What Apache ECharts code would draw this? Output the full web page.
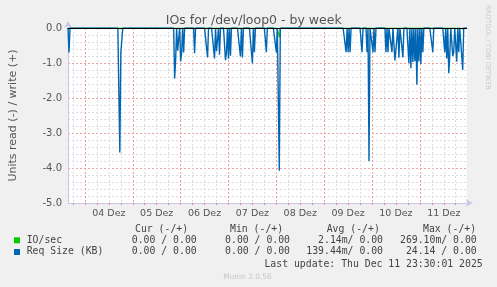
<!DOCTYPE html>
<html><head><meta charset="utf-8">
<script src="https://cdn.jsdelivr.net/npm/echarts@6/dist/echarts.min.js"></script>
<style>html,body{margin:0;padding:0;background:#f0f0f0;}#c{width:497px;height:287px;}</style>
</head><body><div id="c"></div>
<script>
// ---- data ----
const titleText = 'IOs for /dev/loop0 - by week';
const yTicks = [0, -1, -2, -3, -4, -5];
const dayLabels = ['04 Dez','05 Dez','06 Dez','07 Dez','08 Dez','09 Dez','10 Dez','11 Dez'];
// Req Size (KB), read side (negative), spikes: time "DD HH:MM" (Dec 2025)
const reqTimes = ['03 16:00','04 17:30','04 18:00','04 18:30','05 21:00','05 21:30','05 22:30','05 23:00','06 00:00','06 00:30','06 01:30','06 07:00','06 13:30','06 17:00','06 18:00','06 18:30','06 19:30','06 22:30','06 23:00','07 00:00','07 01:00','07 06:00','07 07:00','07 12:00','07 13:00','07 19:00','08 00:00','08 01:30','09 11:00','09 12:00','09 13:00','09 19:00','09 21:30','09 22:30','10 00:30','10 01:30','10 07:00','10 08:00','10 10:00','10 11:30','10 12:00','10 12:30','10 13:30','10 15:30','10 18:30','10 19:30','10 20:30','10 21:30','10 22:30','10 23:30','11 00:30','11 01:30','11 06:30','11 12:30','11 13:30','11 14:30','11 15:00','11 16:30','11 17:00','11 18:30','11 19:30','11 21:30'];
const reqValues = [-0.70,-3.56,-0.70,-0.70,-1.44,-0.90,-0.65,-0.66,-0.95,-0.70,-0.70,-0.72,-0.84,-0.87,-0.66,-0.70,-0.76,-0.92,-0.70,-0.88,-0.79,-0.81,-0.84,-1.01,-0.69,-0.69,-0.69,-4.08,-0.69,-0.69,-0.69,-0.69,-0.69,-3.80,-0.69,-0.69,-0.69,-0.69,-0.69,-0.93,-0.91,-0.91,-0.85,-0.84,-1.00,-1.15,-0.97,-0.95,-1.62,-0.96,-1.03,-0.69,-0.69,-0.69,-0.87,-1.29,-0.80,-0.80,-0.69,-0.96,-0.69,-1.20];
// IO/sec, read side (negative)
const ioTimes = ['04 17:30','06 00:00','06 13:30','07 06:00','07 12:00','08 01:30','10 20:30','10 22:30','11 14:30','11 19:30','11 21:30'];
const ioValues = [-0.03,-0.03,-0.03,-0.03,-0.03,-0.27,-0.03,-0.03,-0.03,-0.03,-0.03];
const legendHeaders = ['Cur (-/+)','Min (-/+)','Avg (-/+)','Max (-/+)'];
const legendNames = ['IO/sec','Req Size (KB)'];
const legendColors = ['#00cc00','#0066b3'];
const legendRows = [
  ['0.00 / 0.00','0.00 / 0.00','2.14m/ 0.00','269.10m/ 0.00'],
  ['0.00 / 0.00','0.00 / 0.00','139.44m/ 0.00','24.14 / 0.00']
];
const lastUpdate = 'Last update: Thu Dec 11 23:30:01 2025';

// ---- categories: 30-min steps from 03 15:30 to 11 23:30 ----
function pad(n){return (n<10?'0':'')+n;}
const categories = [];
for (let i = 0; i <= 400; i++) {
  const m = 3*1440 + 15*60 + 30 + 30*i;
  categories.push(pad(Math.floor(m/1440)) + ' ' + pad(Math.floor((m%1440)/60)) + ':' + pad(m%60));
}
function build(times, vals){
  const arr = categories.map(() => 0);
  times.forEach((t, k) => { const idx = categories.indexOf(t); if (idx >= 0) arr[idx] = vals[k]; });
  return arr;
}
const reqData = build(reqTimes, reqValues);
const ioData = build(ioTimes, ioValues);

const isGrid = (i, v) => /(00|06|12|18):00$/.test(v);
const isNoon = (i, v) => /12:00$/.test(v);

const chart = echarts.init(document.getElementById('c'), null, {renderer:'canvas'});
const txt = '#444';
const L = 66.7, T = 28, W = 400, H = 175;
const gfx = [];
gfx.push({type:'text', style:{text:'RRDTOOL / TOBI OETIKER', x:487.5, y:5, font:'6.6px "DejaVu Sans"', fill:'#c8c8c8', textAlign:'left', textVerticalAlign:'middle'}, rotation:-Math.PI/2, originX:487.5, originY:5, x:0, y:0});
const hdrX = [135, 230, 326.7, 423];
legendHeaders.forEach((h,k)=>gfx.push({type:'text', style:{text:h, x:hdrX[k], y:229, font:'9.8px "DejaVu Sans Mono"', fill:txt, textAlign:'left', textVerticalAlign:'middle'}}));
const colR = [196.7, 290, 383, 476.7];
legendNames.forEach((n,r)=>{
  const y = 240 + r*11.7;
  gfx.push({type:'rect', shape:{x:14, y:y-2.7, width:6, height:6}, style:{fill:legendColors[r]}});
  gfx.push({type:'text', style:{text:n, x:26.7, y:y, font:'9.8px "DejaVu Sans Mono"', fill:txt, textAlign:'left', textVerticalAlign:'middle'}});
  legendRows[r].forEach((c,k)=>gfx.push({type:'text', style:{text:c, x:colR[k], y:y, font:'9.8px "DejaVu Sans Mono"', fill:txt, textAlign:'right', textVerticalAlign:'middle'}}));
});
gfx.push({type:'text', style:{text:lastUpdate, x:482.7, y:264, font:'9.8px "DejaVu Sans Mono"', fill:txt, textAlign:'right', textVerticalAlign:'middle'}});
gfx.push({type:'text', style:{text:'Munin 2.0.56', x:223.3, y:277, font:'7.4px "DejaVu Sans"', fill:'#c8c8c8', textAlign:'left', textVerticalAlign:'middle'}});

chart.setOption({
  animation:false,
  backgroundColor:'#f0f0f0',
  title:{text:titleText, left:248.7, textAlign:'center', top:9, textStyle:{fontFamily:'DejaVu Sans', fontSize:12.5, fontWeight:'normal', color:'#555'}},
  grid:{left:L, top:T, width:W, height:H, show:true, backgroundColor:'#fff', borderWidth:0},
  xAxis:[{
    type:'category', data:categories, boundaryGap:false, position:'bottom',
    axisLine:{show:true, onZero:false, lineStyle:{color:'#c8c8e8', width:1}, symbol:['none','arrow'], symbolSize:[6,7], symbolOffset:[0,6]},
    axisTick:{show:true, interval:isGrid, length:2, lineStyle:{color:'#d88'}},
    axisLabel:{interval:isNoon, formatter:(v)=> v.slice(0,2)+' Dez', fontFamily:'DejaVu Sans', fontSize:9.5, color:'#555', margin:6},
    splitLine:{show:true, interval:isGrid, lineStyle:{color:['#dcdcdc','#e8a0a0','#dcdcdc','#dcdcdc'], type:[2,2], width:1}}
  },{
    type:'category', data:categories, boundaryGap:false, position:'top', z:10,
    axisLine:{show:true, onZero:false, lineStyle:{color:'#000', width:1}}, axisTick:{show:false}, axisLabel:{show:false}, splitLine:{show:false}
  }],
  yAxis:{
    type:'value', min:-5, max:0, interval:1,
    name:'Units read (-) / write (+)', nameLocation:'middle', nameGap:49, nameRotate:90,
    nameTextStyle:{fontFamily:'DejaVu Sans', fontSize:11, color:'#555'},
    axisLine:{show:true, lineStyle:{color:'#c8c8e8'}, symbol:['none','arrow'], symbolSize:[6,7], symbolOffset:[0,7]},
    axisTick:{show:false},
    axisLabel:{formatter:(v)=>v.toFixed(1), fontFamily:'DejaVu Sans', fontSize:10, color:'#555', margin:6},
    splitLine:{show:true, lineStyle:{color:'#e8a0a0', type:[2,2]}},
    minorTick:{show:false, splitNumber:5},
    minorSplitLine:{show:true, lineStyle:{color:'#dcdcdc', type:[2,2]}}
  },
  series:[
    {name:'IO/sec', type:'line', data:ioData, symbol:'none', lineStyle:{color:'#00cc00', width:1}, z:2},
    {name:'Req Size (KB)', type:'line', data:reqData, symbol:'none', lineStyle:{color:'#0066b3', width:1.4}, z:3}
  ],
  graphic:gfx
});
</script></body></html>
